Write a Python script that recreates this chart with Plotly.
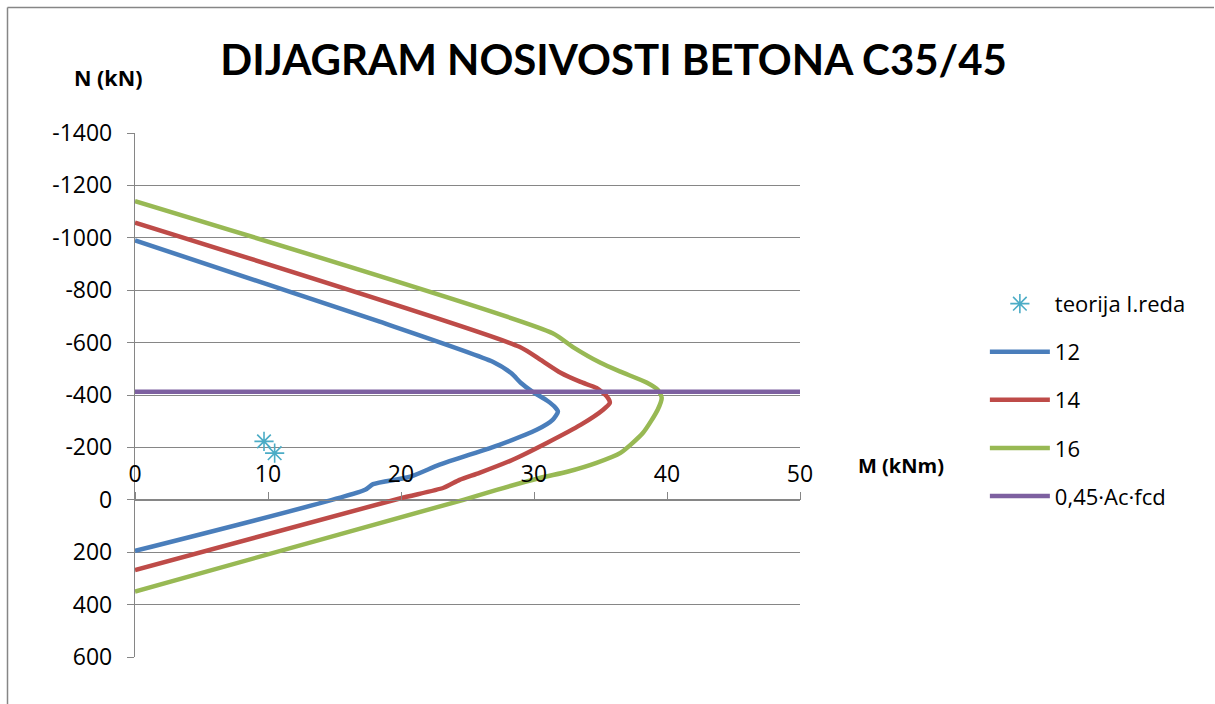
import plotly.graph_objects as go

# Interaction diagram values: M (kNm) vs N (kN), compression negative
m_12 = [0, 18.4, 26.9, 28.3, 29.0, 29.9, 31.0, 31.6, 31.8, 31.4, 30.2, 27.4, 22.9, 20.7, 17.9, 17.3, 0]
n_12 = [-990, -680, -527, -483, -447, -412, -378, -352, -336, -305, -267, -210, -134, -88, -60, -38, 195]

m_14 = [0, 28.9, 30.5, 32.0, 33.5, 34.7, 35.5, 35.7, 35.2, 33.5, 31.0, 28.4, 25.9, 24.4, 23.2, 19.9, 0]
n_14 = [-1058, -584, -534, -485, -450, -427, -393, -370, -344, -286, -218, -153, -103, -76, -46, -5, 268]

m_16 = [0, 31.4, 32.9, 35.0, 36.5, 38.5, 39.3, 39.6, 39.3, 38.2, 36.5, 34.7, 32.5, 30.5, 27.2, 24.7, 0]
n_16 = [-1140, -636, -584, -523, -489, -447, -420, -390, -344, -256, -179, -141, -107, -84, -38, 0, 350]

m_limit = [0, 50]
n_limit = [-412, -412]

m_first_order = [9.7, 10.5]
n_first_order = [-223, -178]

x_ticks = [0, 10, 20, 30, 40, 50]
y_ticks = [-1400, -1200, -1000, -800, -600, -400, -200, 0, 200, 400, 600]
y_tick_text = ["-1400", "-1200", "-1000", "-800", "-600", "-400", "-200", "0", "200", "400", "600"]

TITLE_FONT = "Lato"
FONT = "Open Sans"
GRID = "#868686"

fig = go.Figure()

fig.add_trace(go.Scatter(
    x=m_first_order, y=n_first_order, mode="markers", name="teorija I.reda",
    marker=dict(symbol="asterisk-open", size=16, color="#4BACC6",
                line=dict(color="#4BACC6", width=1.6)),
    legendgroup="a",
))
for name, xs, ys, col, grp in [
    ("12", m_12, n_12, "#4A7EBB", "b"),
    ("14", m_14, n_14, "#BE4B48", "c"),
    ("16", m_16, n_16, "#98B954", "d"),
]:
    fig.add_trace(go.Scatter(
        x=xs, y=ys, mode="lines", name=name, legendgroup=grp,
        line=dict(color=col, width=4.5, shape="spline", smoothing=0.6),
    ))
fig.add_trace(go.Scatter(
    x=m_limit, y=n_limit, mode="lines", name="0,45·Ac·fcd", legendgroup="e",
    line=dict(color="#7D60A0", width=4.5),
))

# outer chart frame: top and left edges
fx0 = (7.5 - 135) / 665
fx1 = (1214 - 135) / 665
fy1 = (657 - 7.5) / 524
fy0 = (657 - 704) / 524
frame = [
    dict(type="line", xref="paper", yref="paper", x0=fx0, x1=fx1, y0=fy1, y1=fy1,
         line=dict(color=GRID, width=1.5)),
    dict(type="line", xref="paper", yref="paper", x0=fx0, x1=fx0, y0=fy1, y1=fy0,
         line=dict(color=GRID, width=1.5)),
]

fig.update_layout(
    width=1215, height=704, autosize=False,
    margin=dict(l=135, r=415, t=133, b=47),
    paper_bgcolor="white", plot_bgcolor="white",
    font=dict(family=FONT, color="black"),
    title=dict(text="<b>DIJAGRAM NOSIVOSTI BETONA C35/45</b>",
               x=0.505, xanchor="center", y=1 - 60 / 704, yanchor="middle",
               font=dict(family=TITLE_FONT, size=42, color="black")),
    xaxis=dict(range=[0, 50], tickmode="array", tickvals=x_ticks,
               showgrid=False, zeroline=False,
               showline=True, linecolor=GRID, linewidth=1.3,
               anchor="free", position=0.3, side="top",
               ticks="outside", ticklen=8, tickcolor=GRID, tickwidth=1.3,
               tickfont=dict(family=FONT, size=23, color="black")),
    yaxis=dict(range=[600, -1400], tickmode="array", tickvals=y_ticks, ticktext=y_tick_text,
               showgrid=True, gridcolor=GRID, gridwidth=1.3, zeroline=False,
               showline=True, linecolor=GRID, linewidth=1.3,
               ticks="outside", ticklen=7, tickcolor=GRID, tickwidth=1.3,
               ticklabelstandoff=10,
               tickfont=dict(family=FONT, size=23, color="black")),
    legend=dict(x=1.278, y=0.714, xanchor="left", yanchor="top",
                traceorder="grouped", tracegroupgap=16.5, itemwidth=60,
                font=dict(family=FONT, size=22, color="black"),
                bgcolor="rgba(0,0,0,0)", borderwidth=0),
    shapes=frame,
    annotations=[
        dict(text="<b>N (kN)</b>", xref="paper", yref="paper",
             x=(108 - 135) / 665, y=(657 - 78) / 524, showarrow=False,
             xanchor="center", yanchor="middle",
             font=dict(family=FONT, size=21.5, color="black")),
        dict(text="<b>M (kNm)</b>", xref="paper", yref="paper",
             x=(901 - 135) / 665, y=(657 - 466) / 524, showarrow=False,
             xanchor="center", yanchor="middle",
             font=dict(family=FONT, size=20, color="black")),
    ],
)

fig.write_html("out.html")
